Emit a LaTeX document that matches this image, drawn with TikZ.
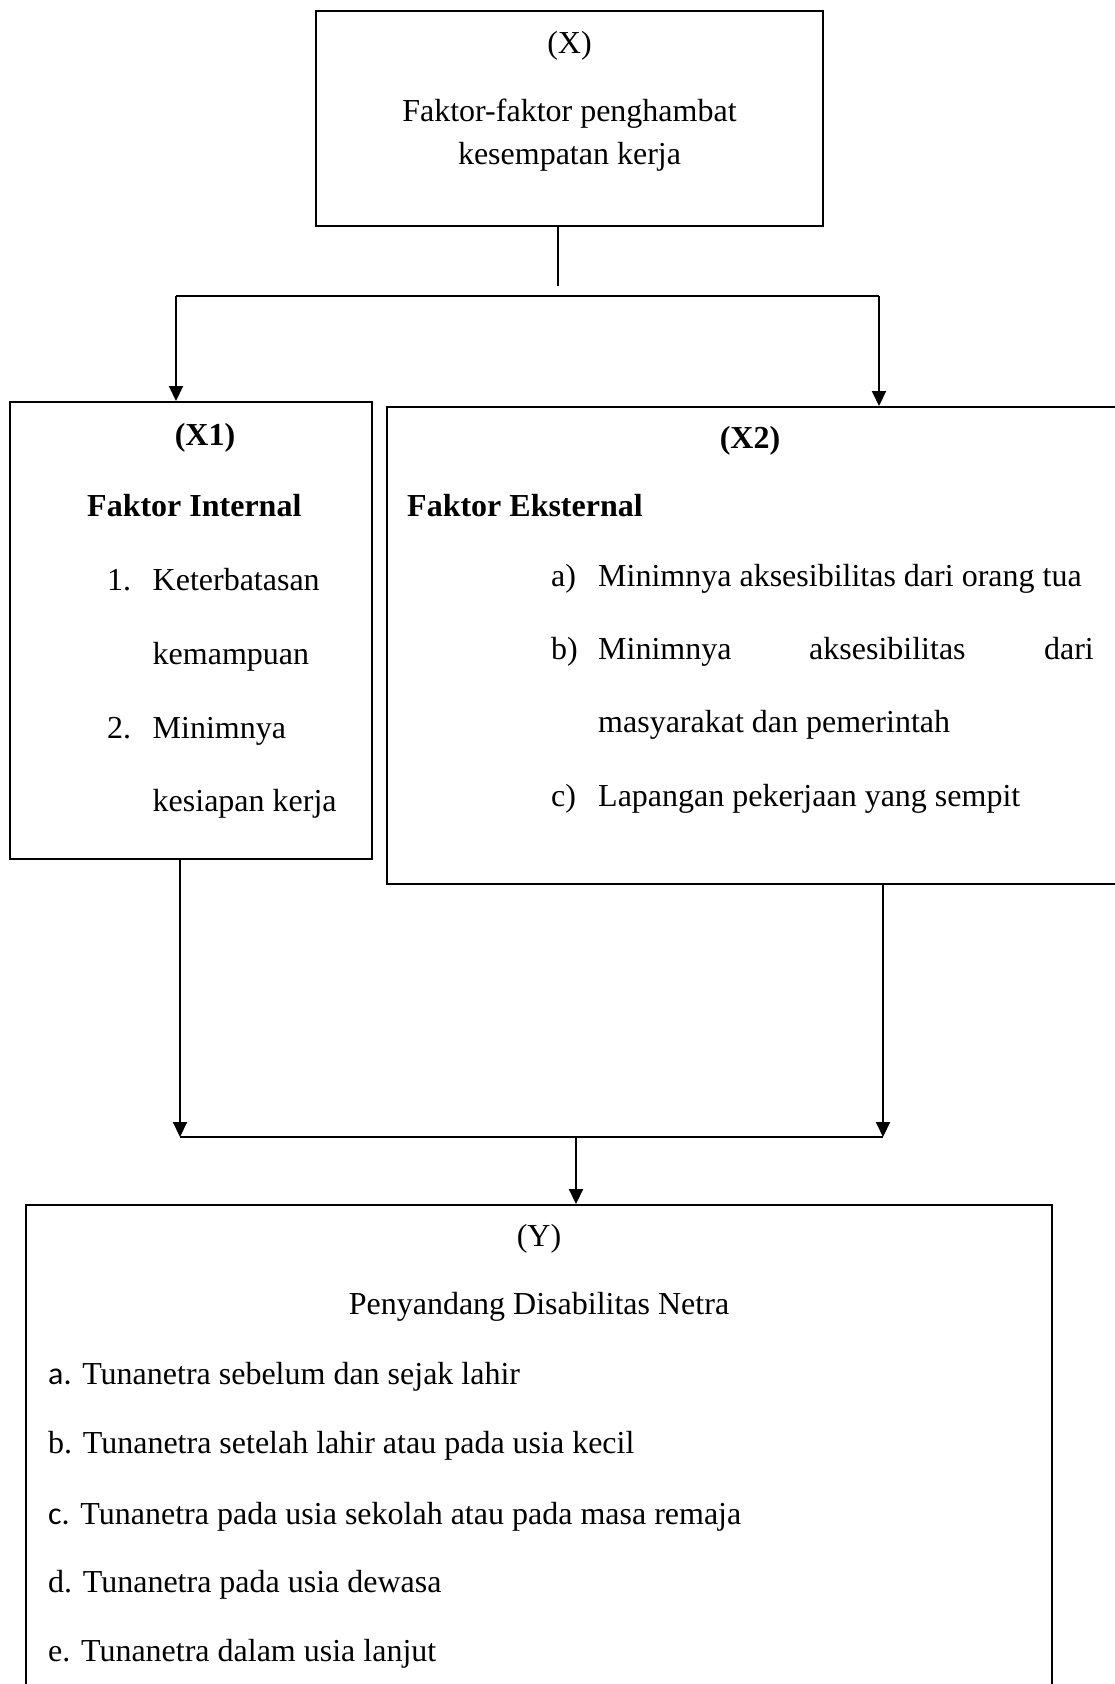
\documentclass[tikz,border=0pt]{standalone}
\usepackage{fontspec}
\setmainfont{Liberation Serif}
\newfontfamily\calfont{Carlito}
\usetikzlibrary{arrows.meta}
\begin{document}
\begin{tikzpicture}[x=1pt,y=-1pt,
  box/.style={draw,line width=2pt,inner sep=0pt},
  conn/.style={line width=2pt},
  arr/.style={line width=2pt,-{Triangle[length=15pt,width=14pt]}},
  ctxt/.style={inner sep=0pt,anchor=base,font=\fontsize{32}{38}\selectfont},
  ltxt/.style={inner sep=0pt,anchor=base west,font=\fontsize{32}{38}\selectfont},
  btxt/.style={inner sep=0pt,font=\fontsize{32}{38}\selectfont\bfseries}]
\useasboundingbox (0,0) rectangle (1114,1684);
% boxes
\node[box,minimum width=507pt,minimum height=215pt] (X) at (569.5,118.5) {};
\node[box,minimum width=362pt,minimum height=457pt] (X1) at (191,630.5) {};
\node[box,minimum width=738pt,minimum height=477pt] (X2) at (756,645.5) {};
\node[box,minimum width=1026pt,minimum height=495pt] (Y) at (539,1452.5) {};
% top box text
\node[ctxt] (xa) at (569.5,53) {(X)};
\node[ctxt] (xb) at (569.5,121) {Faktor-faktor penghambat};
\node[ctxt] (xc) at (569.5,164) {kesempatan kerja};
% X1 text
\node[btxt,anchor=base] (x1a) at (205,445) {(X1)};
\node[btxt,anchor=base west] (x1b) at (87,516) {Faktor Internal};
\node[ltxt] (x1n1) at (107,590) {1.};
\node[ltxt] (x1c) at (152.5,590) {Keterbatasan};
\node[ltxt] (x1d) at (152.5,664) {kemampuan};
\node[ltxt] (x1n2) at (107,738) {2.};
\node[ltxt] (x1e) at (152.5,738) {Minimnya};
\node[ltxt] (x1f) at (152.5,811) {kesiapan kerja};
% X2 text
\node[btxt,anchor=base] (x2a) at (750,448) {(X2)};
\node[btxt,anchor=base west] (x2b) at (407,516) {Faktor Eksternal};
\node[ltxt] (x2na) at (551,586) {a)};
\node[ltxt] (x2c) at (598,586) {Minimnya aksesibilitas dari orang tua};
\node[ltxt] (x2nb) at (551,659) {b)};
\node[ltxt] (x2d) at (598,659) {Minimnya};
\node[ltxt] (x2e) at (809,659) {aksesibilitas};
\node[inner sep=0pt,anchor=base east,font=\fontsize{32}{38}\selectfont] (x2f) at (1094,659) {dari};
\node[ltxt] (x2g) at (598,732) {masyarakat dan pemerintah};
\node[ltxt] (x2nc) at (551,806) {c)};
\node[ltxt] (x2h) at (598,806) {Lapangan pekerjaan yang sempit};
% Y text
\node[ctxt] (ya) at (539,1246) {(Y)};
\node[ctxt] (yb) at (539,1314) {Penyandang Disabilitas Netra};
\node[ltxt] (yc) at (48,1384) {{\calfont a.} Tunanetra sebelum dan sejak lahir};
\node[ltxt] (yd) at (48,1453) {b. Tunanetra setelah lahir atau pada usia kecil};
\node[ltxt] (ye) at (48,1524) {{\calfont c.} Tunanetra pada usia sekolah atau pada masa remaja};
\node[ltxt] (yf) at (48,1592) {d. Tunanetra pada usia dewasa};
\node[ltxt] (yg) at (48,1661) {e. Tunanetra dalam usia lanjut};
% connectors
\coordinate (t1) at (558,286);
\coordinate (hL) at (176,296);
\coordinate (hR) at (879,296);
\coordinate (bL) at (180,1137);
\coordinate (bR) at (883,1137);
\coordinate (bM) at (576,1137);
\draw[conn] (t1 |- X.south) -- (t1);
\draw[conn] (hL) -- (hR);
\draw[arr] (hL) -- (hL |- X1.north);
\draw[arr] (hR) -- (hR |- X2.north);
\draw[arr] (bL |- X1.south) -- (bL);
\draw[arr] (bR |- X2.south) -- (bR);
\draw[conn] (bL) -- (bR);
\draw[arr] (bM) -- (bM |- Y.north);
\end{tikzpicture}
\end{document}
